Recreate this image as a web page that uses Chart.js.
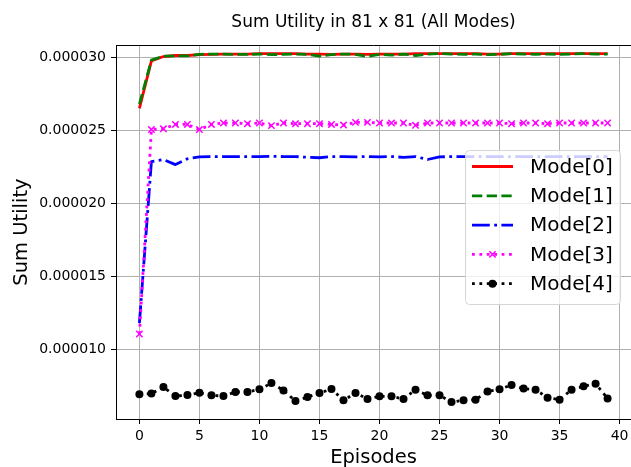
<!DOCTYPE html>
<html>
<head>
<meta charset="utf-8">
<script src="https://cdn.jsdelivr.net/npm/chart.js@4.4.1/dist/chart.umd.min.js"></script>
<style>
  html, body { margin: 0; padding: 0; background: #fff; }
  #wrap { width: 631px; height: 467px; position: relative; }
</style>
</head>
<body>
<div id="wrap"><canvas id="myChart"></canvas></div>
<script>
// episodes on the x axis
const episodes = [0, 1, 2, 3, 4, 5, 6, 7, 8, 9, 10, 11, 12, 13, 14, 15, 16, 17, 18, 19,
                  20, 21, 22, 23, 24, 25, 26, 27, 28, 29, 30, 31, 32, 33, 34, 35, 36, 37, 38, 39];

// sum utility per mode
const mode0 = [26.5e-6, 29.75e-6, 30.05e-6, 30.12e-6, 30.12e-6, 30.18e-6, 30.2e-6, 30.22e-6, 30.22e-6, 30.22e-6,
               30.25e-6, 30.25e-6, 30.25e-6, 30.25e-6, 30.22e-6, 30.22e-6, 30.2e-6, 30.22e-6, 30.22e-6, 30.2e-6,
               30.22e-6, 30.22e-6, 30.22e-6, 30.25e-6, 30.25e-6, 30.25e-6, 30.25e-6, 30.25e-6, 30.25e-6, 30.22e-6,
               30.22e-6, 30.25e-6, 30.25e-6, 30.25e-6, 30.25e-6, 30.25e-6, 30.25e-6, 30.25e-6, 30.25e-6, 30.25e-6];
const mode1 = [26.8e-6, 29.8e-6, 30.08e-6, 30.1e-6, 30.1e-6, 30.2e-6, 30.22e-6, 30.22e-6, 30.2e-6, 30.2e-6,
               30.22e-6, 30.18e-6, 30.2e-6, 30.22e-6, 30.2e-6, 30.08e-6, 30.18e-6, 30.22e-6, 30.2e-6, 30.05e-6,
               30.2e-6, 30.15e-6, 30.22e-6, 30.12e-6, 30.22e-6, 30.25e-6, 30.22e-6, 30.2e-6, 30.22e-6, 30.18e-6,
               30.2e-6, 30.25e-6, 30.22e-6, 30.2e-6, 30.22e-6, 30.2e-6, 30.22e-6, 30.25e-6, 30.22e-6, 30.22e-6];
const mode2 = [11.8e-6, 22.85e-6, 23.0e-6, 22.65e-6, 23.05e-6, 23.18e-6, 23.2e-6, 23.2e-6, 23.2e-6, 23.2e-6,
               23.2e-6, 23.22e-6, 23.2e-6, 23.2e-6, 23.15e-6, 23.12e-6, 23.2e-6, 23.2e-6, 23.18e-6, 23.2e-6,
               23.18e-6, 23.2e-6, 23.15e-6, 23.2e-6, 23.0e-6, 23.18e-6, 23.2e-6, 23.2e-6, 23.2e-6, 23.2e-6,
               23.2e-6, 23.2e-6, 23.2e-6, 23.2e-6, 23.2e-6, 23.2e-6, 23.2e-6, 23.2e-6, 23.2e-6, 23.2e-6];
const mode3 = [11.05e-6, 25.05e-6, 25.1e-6, 25.4e-6, 25.4e-6, 25.05e-6, 25.4e-6, 25.5e-6, 25.5e-6, 25.45e-6,
               25.5e-6, 25.32e-6, 25.5e-6, 25.45e-6, 25.45e-6, 25.45e-6, 25.4e-6, 25.36e-6, 25.54e-6, 25.54e-6,
               25.5e-6, 25.5e-6, 25.5e-6, 25.34e-6, 25.5e-6, 25.5e-6, 25.5e-6, 25.5e-6, 25.5e-6, 25.5e-6,
               25.5e-6, 25.45e-6, 25.5e-6, 25.5e-6, 25.45e-6, 25.5e-6, 25.5e-6, 25.5e-6, 25.5e-6, 25.5e-6];
const mode4 = [6.92e-6, 6.97e-6, 7.42e-6, 6.80e-6, 6.87e-6, 7.03e-6, 6.85e-6, 6.80e-6, 7.08e-6, 7.08e-6,
               7.26e-6, 7.69e-6, 7.19e-6, 6.46e-6, 6.73e-6, 7.01e-6, 7.28e-6, 6.51e-6, 7.01e-6, 6.60e-6,
               6.78e-6, 6.78e-6, 6.60e-6, 7.24e-6, 6.85e-6, 6.85e-6, 6.39e-6, 6.51e-6, 6.55e-6, 7.12e-6,
               7.26e-6, 7.56e-6, 7.31e-6, 7.24e-6, 6.69e-6, 6.55e-6, 7.24e-6, 7.47e-6, 7.65e-6, 6.64e-6];

const modeNames = ['Mode[0]', 'Mode[1]', 'Mode[2]', 'Mode[3]', 'Mode[4]'];
const xTicks = [0, 5, 10, 15, 20, 25, 30, 35, 40];
const yTicks = [10e-6, 15e-6, 20e-6, 25e-6, 30e-6];
const chartTitle = 'Sum Utility in 81 x 81 (All Modes)';

const FONT = "'DejaVu Sans', sans-serif";
Chart.defaults.color = '#000';
Chart.defaults.font.family = FONT;

// title centred over the axes, like matplotlib
const axesTitle = {
    id: 'axesTitle',
    afterDraw(chart) {
        const a = chart.chartArea, ctx = chart.ctx;
        ctx.save();
        ctx.fillStyle = '#000';
        ctx.font = '17px ' + FONT;
        ctx.textAlign = 'center';
        ctx.textBaseline = 'alphabetic';
        ctx.fillText(chartTitle, (a.left + a.right) / 2, 27);
        ctx.restore();
    }
};

// legend drawn inside the plot, like matplotlib's "center right"
const insideLegend = {
    id: 'insideLegend',
    afterDraw(chart) {
        const ctx = chart.ctx;
        const x0 = 465, y0 = 150, w = 155, h = 154;
        ctx.save();
        ctx.setLineDash([]);
        ctx.beginPath();
        ctx.roundRect(x0 + 0.5, y0 + 0.5, w, h, 4);
        ctx.fillStyle = 'rgba(255,255,255,0.8)';
        ctx.fill();
        ctx.strokeStyle = '#d6d6d6';
        ctx.lineWidth = 1;
        ctx.stroke();

        chart.data.datasets.forEach((ds, i) => {
            const y = 166.5 + i * 29.3;
            ctx.save();
            ctx.strokeStyle = ds.borderColor;
            ctx.lineWidth = ds.borderWidth;
            ctx.setLineDash(ds.borderDash || []);
            ctx.beginPath();
            ctx.moveTo(472, y);
            ctx.lineTo(513, y);
            ctx.stroke();
            ctx.restore();
            if (ds.pointRadius > 0) {
                ctx.fillStyle = ds.pointBackgroundColor;
                ctx.strokeStyle = ds.pointBorderColor;
                ctx.lineWidth = ds.pointBorderWidth;
                ctx.setLineDash([]);
                ctx.beginPath();
                if (ds.pointStyle === 'circle') {
                    ctx.arc(492.5, y, ds.pointRadius, 0, Math.PI * 2);
                    ctx.fill();
                } else {
                    const r = ds.pointRadius * Math.SQRT1_2;
                    ctx.moveTo(492.5 - r, y - r); ctx.lineTo(492.5 + r, y + r);
                    ctx.moveTo(492.5 - r, y + r); ctx.lineTo(492.5 + r, y - r);
                    ctx.stroke();
                }
            }
            ctx.fillStyle = '#000';
            ctx.font = '20px ' + FONT;
            ctx.textBaseline = 'middle';
            ctx.textAlign = 'left';
            ctx.fillText(ds.label, 530, y + 1);
        });
        ctx.restore();
    }
};

// top spine of the axes box
const topSpine = {
    id: 'topSpine',
    afterDatasetsDraw(chart) {
        const a = chart.chartArea, ctx = chart.ctx;
        ctx.save();
        ctx.strokeStyle = '#000';
        ctx.lineWidth = 1;
        ctx.beginPath();
        ctx.moveTo(a.left, a.top + 0.5);
        ctx.lineTo(a.right, a.top + 0.5);
        ctx.stroke();
        ctx.restore();
    }
};

const ctx = document.getElementById('myChart').getContext('2d');
const myChart = new Chart(ctx, {
    type: 'line',
    data: {
        labels: episodes,
        datasets: [
            { label: modeNames[0], data: mode0, borderColor: '#ff0000', borderWidth: 2.8,
              pointRadius: 0, order: 4 },
            { label: modeNames[1], data: mode1, borderColor: '#008000', borderWidth: 2.8,
              borderDash: [10.3, 4.4], pointRadius: 0, order: 3 },
            { label: modeNames[2], data: mode2, borderColor: '#0000ff', borderWidth: 2.8,
              borderDash: [17.8, 4.4, 2.8, 4.4], pointRadius: 0, order: 2 },
            { label: modeNames[3], data: mode3, borderColor: '#ff00ff', borderWidth: 2.8,
              borderDash: [2.8, 4.6], pointStyle: 'crossRot', pointRadius: 4.5,
              pointBorderWidth: 1.5, pointBorderColor: '#ff00ff', pointBackgroundColor: '#ff00ff', order: 1 },
            { label: modeNames[4], data: mode4, borderColor: '#000000', borderWidth: 2.8,
              borderDash: [2.8, 4.6], pointStyle: 'circle', pointRadius: 4,
              pointBorderWidth: 0, pointBorderColor: '#000', pointBackgroundColor: '#000', order: 0 }
        ]
    },
    options: {
        responsive: true,
        maintainAspectRatio: false,
        animation: false,
        devicePixelRatio: 1,
        layout: { padding: { top: 45, left: 0, right: 0, bottom: 0 }, autoPadding: false },
        elements: { line: { tension: 0, fill: false, borderJoinStyle: 'round' } },
        scales: {
            x: {
                type: 'linear',
                min: -1.95,
                max: 40.95,
                afterBuildTicks: s => { s.ticks = xTicks.map(v => ({ value: v })); },
                afterFit: s => { s.height = 48; s.paddingLeft = 0; s.paddingRight = 0; },
                grid: { color: '#b0b0b0', lineWidth: 1, tickColor: '#000', tickLength: 5, tickWidth: 1 },
                border: { color: '#000', width: 1 },
                ticks: { font: { size: 14 }, padding: 4, maxRotation: 0, autoSkip: false },
                title: { display: true, text: 'Episodes', font: { size: 19.5, lineHeight: 1.0 },
                         padding: { top: 0, bottom: -1 } }
            },
            y: {
                min: 5.23e-6,
                max: 30.84e-6,
                afterBuildTicks: s => { s.ticks = yTicks.map(v => ({ value: v })); },
                afterFit: s => { s.width = 116; s.paddingTop = 0; s.paddingBottom = 0; },
                grid: { color: '#b0b0b0', lineWidth: 1, tickColor: '#000', tickLength: 5, tickWidth: 1 },
                border: { color: '#000', width: 1 },
                ticks: { font: { size: 14 }, padding: 5, callback: v => v.toFixed(6) },
                title: { display: true, text: 'Sum Utility', font: { size: 19.5, lineHeight: 1.0 },
                         padding: { top: 12, bottom: 0 } }
            }
        },
        plugins: {
            legend: { display: false },
            tooltip: { enabled: false },
            title: { display: false }
        }
    },
    plugins: [topSpine, axesTitle, insideLegend]
});
</script>
</body>
</html>
